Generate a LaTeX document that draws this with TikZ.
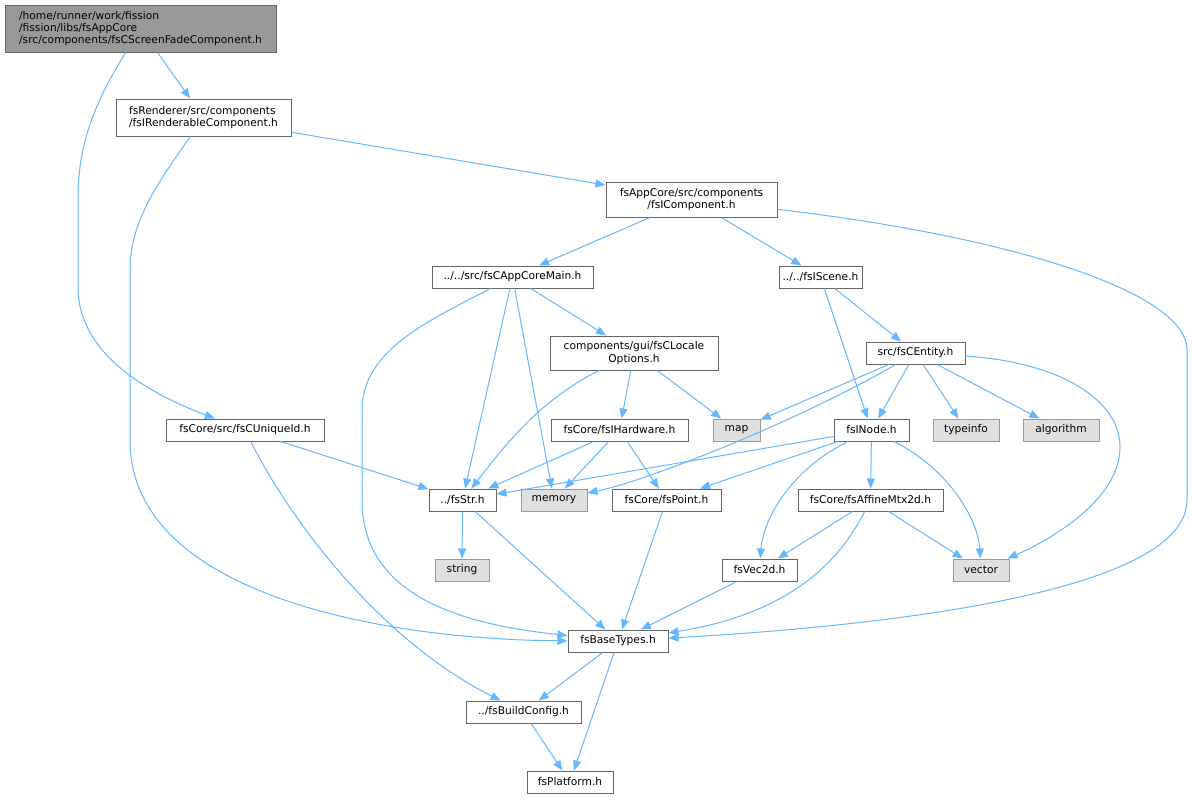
\documentclass[tikz,border=0pt]{standalone}
\usepackage{fontspec}
\setmainfont{DejaVu Sans}
\usetikzlibrary{arrows.meta}
\definecolor{edgec}{HTML}{63B8FF}
\definecolor{bd}{HTML}{666666}
\definecolor{extbd}{HTML}{999999}
\definecolor{extfill}{HTML}{E0E0E0}
\definecolor{rootfill}{HTML}{999999}
\begin{document}
\begin{tikzpicture}[x=0.75pt,y=-0.75pt,
  box/.style={draw=bd, fill=white, line width=0.75pt, inner sep=0pt, font=\fontsize{8}{9.2}\selectfont},
  ext/.style={box, draw=extbd, fill=extfill},
  rootbox/.style={box, fill=rootfill, draw=bd},
  sz/.style 2 args={minimum width=#1*0.75pt, minimum height=#2*0.75pt},
  dep/.style={draw=edgec, line width=0.75pt, -{Triangle[length=7.5pt,width=6pt]}},
]
\fill[white] (0,0) rectangle (1192,800);
\useasboundingbox (0,0) rectangle (1192,800);

\node[rootbox, sz={271}{47}, align=left] (root) at (140.5,28.5) {/home/runner/work/fission\\/fission/libs/fsAppCore\\/src/components/fsCScreenFadeComponent.h};
\node[box, sz={175}{37}, align=left] (rend) at (203.5,117.5) {fsRenderer/src/components\\/fsIRenderableComponent.h};
\node[box, sz={171}{35}, align=center] (icomp) at (691.5,199.5) {fsAppCore/src/components\\/fsIComponent.h};
\node[box, sz={161}{22}] (main) at (512.5,277) {../../src/fsCAppCoreMain.h};
\node[box, sz={83}{22}] (scene) at (820.5,277) {../../fsIScene.h};
\node[box, sz={168}{34}, align=center] (locale) at (634,353) {components/gui/fsCLocale\\Options.h};
\node[box, sz={99}{22}] (entity) at (915.5,353) {src/fsCEntity.h};
\node[box, sz={158}{22}] (uid) at (245,430) {fsCore/src/fsCUniqueId.h};
\node[box, sz={137}{22}] (hw) at (619.5,430) {fsCore/fsIHardware.h};
\node[ext, sz={47}{22}] (map) at (736.5,430) {map};
\node[box, sz={75}{22}] (inode) at (871.5,430) {fsINode.h};
\node[ext, sz={66}{22}] (typeinfo) at (966,430) {typeinfo};
\node[ext, sz={76}{22}] (algorithm) at (1061,430) {algorithm};
\node[box, sz={67}{22}] (str) at (462.5,500) {../fsStr.h};
\node[ext, sz={66}{22}] (memory) at (554,500) {memory};
\node[box, sz={109}{22}] (point) at (666.5,500) {fsCore/fsPoint.h};
\node[box, sz={145}{22}] (affine) at (870.5,500) {fsCore/fsAffineMtx2d.h};
\node[ext, sz={54}{22}] (string) at (462,570) {string};
\node[box, sz={75}{22}] (vec2d) at (759.5,570) {fsVec2d.h};
\node[ext, sz={56}{22}] (vector) at (981,570) {vector};
\node[box, sz={100}{22}] (base) at (618,641) {fsBaseTypes.h};
\node[box, sz={115}{22}] (build) at (523.5,712) {../fsBuildConfig.h};
\node[box, sz={86}{22}] (plat) at (570,782) {fsPlatform.h};

% straight edges
\draw[dep] (root) -- (rend);
\draw[dep] (rend) -- (icomp);
\draw[dep] (icomp) -- (main);
\draw[dep] (icomp) -- (scene);
\draw[dep] (main) -- (locale);
\draw[dep] (main) -- (str);
\draw[dep] (main) -- (memory);
\draw[dep] (scene) -- (entity);
\draw[dep] (scene) -- (inode);
\draw[dep] (locale) -- (hw);
\draw[dep] (locale) -- (map);
\draw[dep] (entity) -- (map);
\draw[dep] (entity) -- (inode);
\draw[dep] (entity) -- (typeinfo);
\draw[dep] (entity) -- (algorithm);
\draw[dep] (uid) -- (str);
\draw[dep] (hw) -- (str);
\draw[dep] (hw) -- (memory);
\draw[dep] (hw) -- (point);
\draw[dep] (inode) -- (str);
\draw[dep] (inode) -- (point);
\draw[dep] (inode) -- (affine);
\draw[dep] (affine) -- (vec2d);
\draw[dep] (affine) -- (vector);
\draw[dep] (str) -- (string);
\draw[dep] (str) -- (base);
\draw[dep] (point) -- (base);
\draw[dep] (vec2d) -- (base);
\draw[dep] (base) -- (build);
\draw[dep] (base) -- (plat);
\draw[dep] (build) -- (plat);

% curved edges
\draw[dep] (root) .. controls (90,110) and (78,150) .. (78,200) -- (78,287) .. controls (78,350) and (140,390) .. (uid);
\draw[dep] (rend) .. controls (160,180) and (130,220) .. (130,270) -- (130,440) .. controls (130,600) and (400,640) .. (base);
\draw[dep] (main) .. controls (430,320) and (362,350) .. (362,410) -- (362,500) .. controls (362,600) and (470,625) .. (base);
\draw[dep] (uid) .. controls (290,520) and (380,640) .. (build);
\draw[dep] (icomp) .. controls (1000,235) and (1187,290) .. (1187,350) -- (1187,500) .. controls (1187,590) and (900,625) .. (base);
\draw[dep] (entity) .. controls (1060,362) and (1120,400) .. (1120,447) .. controls (1120,500) and (1050,540) .. (vector);
\draw[dep] (inode) .. controls (790,470) and (763,520) .. (vec2d);
\draw[dep] (inode) .. controls (950,470) and (978,520) .. (vector);
\draw[dep] (affine) .. controls (835,570) and (780,615) .. (base);
\draw[dep] (locale) .. controls (540,400) and (505,445) .. (str);
\draw[dep] (entity) .. controls (800,420) and (650,480) .. (memory);
\end{tikzpicture}
\end{document}
